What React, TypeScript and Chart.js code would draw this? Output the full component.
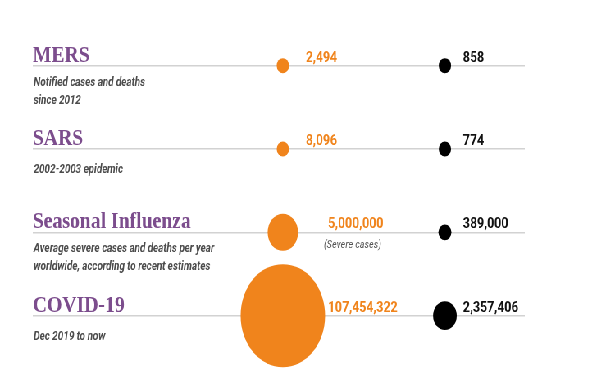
import React, { useEffect, useRef } from "react";
import { Chart, registerables } from "chart.js";

Chart.register(...registerables);

const diseases = ["MERS", "SARS", "Seasonal Influenza", "COVID-19"];
const descriptions = [
  ["Notified cases and deaths", "since 2012"],
  ["2002-2003 epidemic"],
  ["Average severe cases and deaths per year", "worldwide, according to recent estimates"],
  ["Dec 2019 to now"],
];
const cases = [2494, 8096, 5000000, 107454322];
const deaths = [858, 774, 389000, 2357406];
const caseNotes = ["", "", "(Severe cases)", ""];

// The reference is horizontally condensed; draw wide and squeeze with CSS.
const SQUEEZE = 0.82;
const W = 734;
const H = 387;
// extra canvas margin so Chart.js' bubble overflow padding does not move the plot area
const E = 60;
const ORANGE = "#f0841c";
const PURPLE = "#7c4d8d";

const radiusFor = (v: number) => Math.max(7.5, 0.1083 * Math.cbrt(v));

const rowLabels = {
  id: "rowLabels",
  afterDatasetsDraw(chart: any) {
    const { ctx, chartArea, scales } = chart;
    const xs = scales.x;
    const ys = scales.y;
    ctx.save();
    diseases.forEach((name: string, i: number) => {
      const y = ys.getPixelForValue(i);
      ctx.textAlign = "left";
      ctx.textBaseline = "alphabetic";
      ctx.fillStyle = PURPLE;
      ctx.font = "bold 24px 'Liberation Serif'";
      ctx.fillText(name, chartArea.left, y - 4);

      const lines = descriptions[i];
      ctx.font = "italic bold 12px Roboto";
      ctx.fillStyle = "#4c4c4c";
      ctx.textBaseline = "middle";
      const first = lines.length > 1 ? 17 : 21;
      lines.forEach((t, j) => ctx.fillText(t, chartArea.left + 1, y + first + j * 18));

      const rc = radiusFor(cases[i]);
      const ox = xs.getPixelForValue(0) + (rc >= 15 ? 55 : 28);
      ctx.textBaseline = "alphabetic";
      ctx.font = "bold 15px Roboto";
      ctx.fillStyle = ORANGE;
      ctx.fillText(cases[i].toLocaleString("en-US"), ox, y - 4);
      if (caseNotes[i]) {
        ctx.font = "italic 11px Roboto";
        ctx.fillStyle = "#555555";
        ctx.textBaseline = "middle";
        ctx.fillText(caseNotes[i], ox - 5, y + 13);
      }

      ctx.textBaseline = "alphabetic";
      ctx.font = "bold 15px Roboto";
      ctx.fillStyle = "#111111";
      ctx.fillText(deaths[i].toLocaleString("en-US"), xs.getPixelForValue(1) + 22, y - 4);
    });
    ctx.restore();
  },
};

export default function App() {
  const ref = useRef<HTMLCanvasElement>(null);
  useEffect(() => {
    if (!ref.current) return;
    const chart = new Chart(ref.current, {
      type: "bubble",
      data: {
        datasets: [
          {
            label: "Cases",
            data: cases.map((v, i) => ({ x: 0, y: i, r: radiusFor(v) })),
            backgroundColor: ORANGE,
            borderWidth: 0,
            clip: false,
          } as any,
          {
            label: "Deaths",
            data: deaths.map((v, i) => ({ x: 1, y: i, r: radiusFor(v) })),
            backgroundColor: "#000000",
            borderWidth: 0,
            clip: false,
          } as any,
        ],
      },
      options: {
        animation: false,
        responsive: false,
        maintainAspectRatio: false,
        devicePixelRatio: 1,
        events: [],
        layout: { padding: { left: 40 + E, right: 94 + E, top: 24 + E, bottom: 13 + E } },
        plugins: { legend: { display: false }, tooltip: { enabled: false } },
        scales: {
          x: { type: "linear", display: false, min: -1.543, max: 1.493 },
          y: {
            type: "linear",
            reverse: true,
            min: -0.5,
            max: 3.7,
            ticks: { display: false, stepSize: 1, includeBounds: false },
            grid: { color: "#d2d2d2", lineWidth: 1.5, drawTicks: false },
            border: { display: false },
            afterFit: (s: any) => {
              s.width = 0;
            },
          },
        },
      } as any,
      plugins: [rowLabels],
    });
    return () => chart.destroy();
  }, []);

  return (
    <div
      style={{
        position: "fixed",
        left: 0,
        top: 0,
        width: W,
        height: H,
        overflow: "hidden",
        background: "#ffffff",
        transform: `scaleX(${SQUEEZE})`,
        transformOrigin: "0 0",
      }}
    >
      <canvas
        ref={ref}
        width={W + 2 * E}
        height={H + 2 * E}
        style={{
          display: "block",
          position: "absolute",
          left: -E,
          top: -E,
          width: W + 2 * E,
          height: H + 2 * E,
        }}
      />
    </div>
  );
}
